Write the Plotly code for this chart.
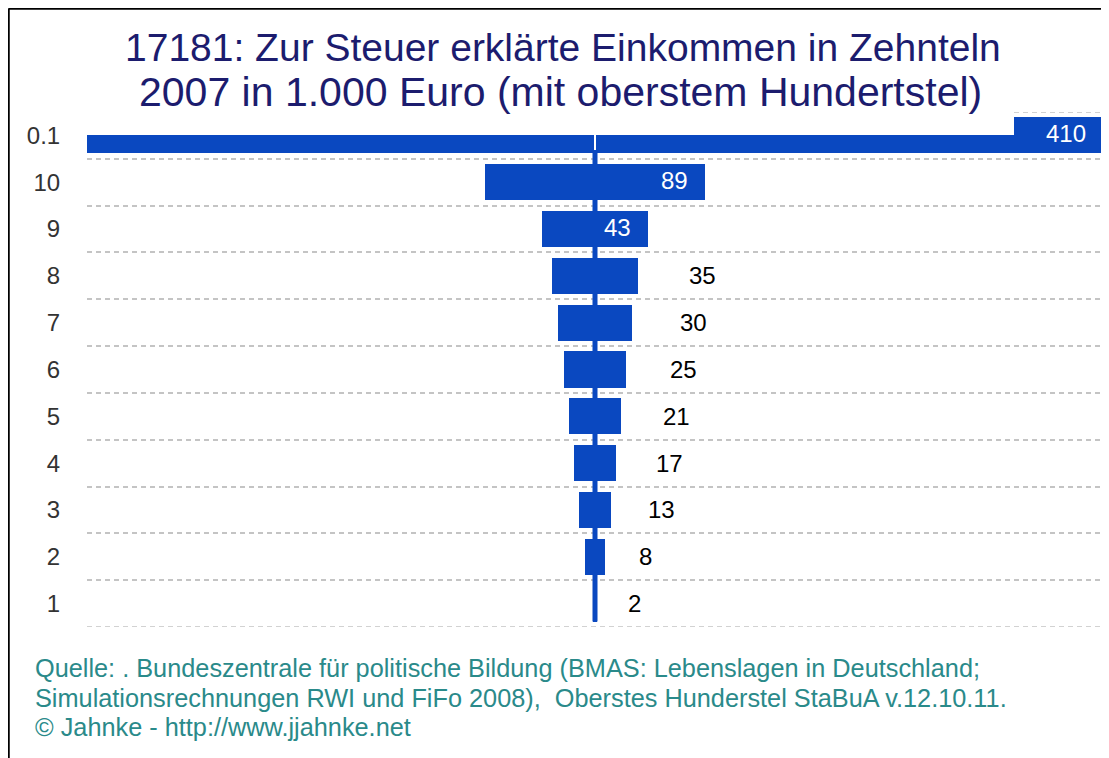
import plotly.graph_objects as go

# ---- data ----
categories = ["0.1", "10", "9", "8", "7", "6", "5", "4", "3", "2", "1"]
values = [410, 89, 43, 35, 30, 25, 21, 17, 13, 8, 2]
inside_label = [True, True, True, False, False, False, False, False, False, False, False]

title_lines = ["17181: Zur Steuer erklärte Einkommen in Zehnteln",
               "2007 in 1.000 Euro (mit oberstem Hundertstel)"]
footer_lines = ["Quelle: . Bundeszentrale für politische Bildung (BMAS: Lebenslagen in Deutschland;",
                "Simulationsrechnungen RWI und FiFo 2008),  Oberstes Hunderstel StaBuA v.12.10.11.",
                "© Jahnke - http://www.jjahnke.net"]

# ---- layout geometry (page offset of 8px from default body margin) ----
OFF = 8
W, H = 1109 - OFF, 758 - OFF
L, T = 87 - OFF, 112 - OFF
R = W - (1103 - OFF)
B = H - (627 - OFF)
PW, PH = W - L - R, H - T - B


def px_x(page_px):
    return (page_px - OFF - L) / PW


def px_y(page_py):
    return (H - B - (page_py - OFF)) / PH


BLUE = "#0a48c0"
FONT = "Liberation Sans, Arial, sans-serif"
n = len(categories)
ypos = [n - 1 - i for i in range(n)]
bar_w = 0.77
half = max(values) / 2

fig = go.Figure()

# centre line connecting bars
fig.add_trace(go.Scatter(
    x=[0, 0], y=[ypos[0], ypos[-1] - bar_w / 2],
    mode="lines", line=dict(color=BLUE, width=5),
    hoverinfo="skip", showlegend=False))

fig.add_trace(go.Bar(
    orientation="h", y=ypos, x=values, base=[-v / 2 for v in values],
    width=bar_w, marker=dict(color=BLUE, line=dict(width=0)),
    showlegend=False, hoverinfo="skip"))

annotations = []
for v, yy, ins in zip(values, ypos, inside_label):
    if ins:
        annotations.append(dict(x=v / 2, y=yy, xref="x", yref="y", text=str(v),
                                showarrow=False, xanchor="right", yanchor="middle",
                                xshift=-15, yshift=2, font=dict(family=FONT, size=24, color="white")))
    else:
        annotations.append(dict(x=v * 0.75, y=yy, xref="x", yref="y", text=str(v),
                                showarrow=False, xanchor="left", yanchor="middle",
                                xshift=27, font=dict(family=FONT, size=24, color="black")))

# title
annotations.append(dict(x=px_x(563), y=px_y(48), xref="paper", yref="paper",
                        text=title_lines[0], showarrow=False, xanchor="center",
                        yanchor="middle", font=dict(family=FONT, size=39, color="#1c1c6e")))
annotations.append(dict(x=px_x(560), y=px_y(92), xref="paper", yref="paper",
                        text=title_lines[1], showarrow=False, xanchor="center",
                        yanchor="middle", font=dict(family=FONT, size=41, color="#1c1c6e")))
# footer
for i, line in enumerate(footer_lines):
    annotations.append(dict(x=px_x(33), y=px_y(668 + 29.5 * i), xref="paper", yref="paper",
                            text=line, showarrow=False, xanchor="left", yanchor="middle",
                            font=dict(family=FONT, size=25.3, color="#2a8a8a")))

grid_style = dict(color="#c4c4c4", width=1.5, dash="5px,4px")
shapes = [
    # boundary gridlines (top and bottom)
    dict(type="line", xref="paper", yref="y", x0=0, x1=1, y0=n - 0.5, y1=n - 0.5,
         line=grid_style, layer="below"),
    dict(type="line", xref="paper", yref="y", x0=0, x1=1, y0=-0.5, y1=-0.5,
         line=grid_style, layer="below"),
    # white title box hiding the top of the first bar
    dict(type="rect", xref="paper", yref="paper", x0=0, x1=px_x(1014),
         y0=px_y(135), y1=px_y(70), fillcolor="white", line=dict(width=0), layer="above"),
    # white slit in the first bar at the centre
    dict(type="line", xref="x", yref="paper", x0=0, x1=0,
         y0=px_y(150), y1=px_y(134), line=dict(color="white", width=2), layer="above"),
    # frame (top & left)
    dict(type="line", xref="paper", yref="paper", x0=px_x(8.5), x1=px_x(1115),
         y0=px_y(8.5), y1=px_y(8.5), line=dict(color="black", width=2.5)),
    dict(type="line", xref="paper", yref="paper", x0=px_x(8.5), x1=px_x(8.5),
         y0=px_y(8.5), y1=px_y(765), line=dict(color="black", width=2.5)),
]

fig.update_layout(
    width=W, height=H,
    margin=dict(l=L, r=R, t=T, b=B, pad=0),
    paper_bgcolor="white", plot_bgcolor="white",
    bargap=0, showlegend=False,
    annotations=annotations, shapes=shapes,
    xaxis=dict(range=[-half, half], visible=False, showgrid=False, zeroline=False, fixedrange=True),
    yaxis=dict(range=[-0.5, n - 0.5], tickmode="array", tickvals=ypos, ticktext=categories,
               showgrid=False, zeroline=False, showline=False,
               ticks="outside", ticklen=21, tickcolor="rgba(0,0,0,0)",
               tickfont=dict(family=FONT, size=24, color="#333333"),
               minor=dict(tickmode="array", tickvals=[k - 0.5 for k in range(1, n)],
                          showgrid=True, gridcolor="#c4c4c4", gridwidth=1.5,
                          griddash="5px,4px", ticks="")),
)

fig.write_html("out.html")
